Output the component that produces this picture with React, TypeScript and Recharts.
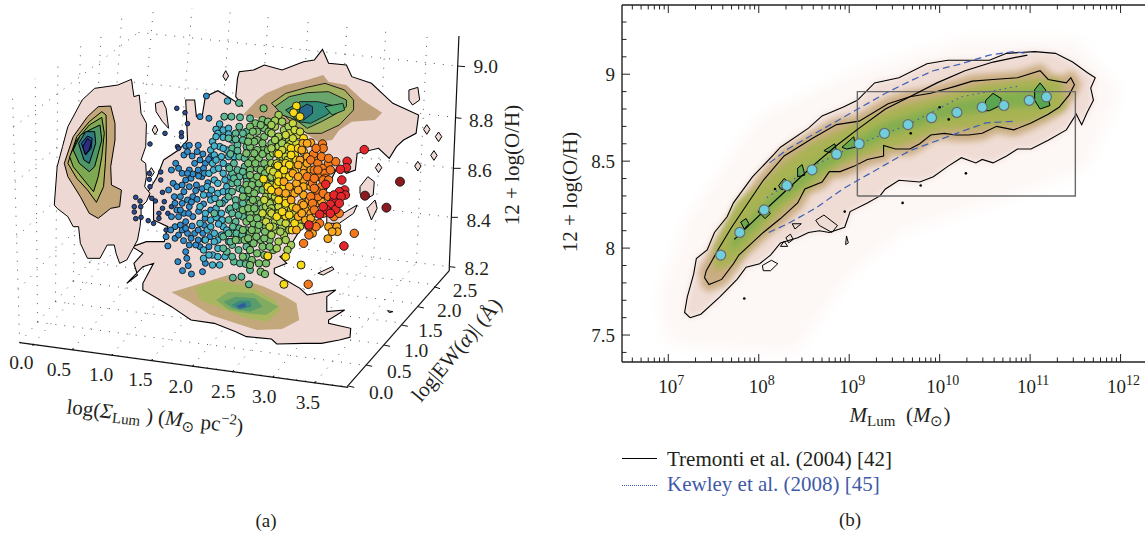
import React from 'react';
import { ScatterChart, Scatter, XAxis, YAxis, ErrorBar } from 'recharts';

type Pt = [number, number];

const SERIF = '"Liberation Serif", serif';
const INK = '#231f20';

const zTicks: { from: Pt; to: Pt; label: string; at: Pt }[] = [
  { from: [1281, 198], to: [1302, 200], label: '9.0', at: [1360, 200] },
  { from: [1275, 353], to: [1292, 355], label: '8.8', at: [1347, 360] },
  { from: [1270, 505], to: [1290, 505], label: '8.6', at: [1343, 512] },
  { from: [1265, 652], to: [1282, 652], label: '8.4', at: [1340, 660] },
  { from: [1258, 800], to: [1275, 802], label: '8.2', at: [1335, 805] },
];
const ewTicks: { from: Pt; to: Pt; label: string; at: Pt }[] = [
  { from: [1215, 860], to: [1232, 866], label: '2.5', at: [1302, 870] },
  { from: [1170, 920], to: [1187, 924], label: '2.0', at: [1258, 930] },
  { from: [1125, 975], to: [1142, 979], label: '1.5', at: [1205, 992] },
  { from: [1075, 1035], to: [1092, 1039], label: '1.0', at: [1165, 1050] },
  { from: [1025, 1095], to: [1042, 1099], label: '0.5', at: [1118, 1113] },
  { from: [975, 1158], to: [992, 1162], label: '0.0', at: [1067, 1178] },
];
const sigmaTicks: { from: Pt; to: Pt; label: string; at: Pt }[] = [
  { from: [92, 1038], to: [94, 1032], label: '0.0', at: [60, 1088] },
  { from: [203, 1050], to: [205, 1044], label: '0.5', at: [165, 1108] },
  { from: [313, 1068], to: [315, 1062], label: '1.0', at: [283, 1122] },
  { from: [425, 1083], to: [427, 1077], label: '1.5', at: [393, 1138] },
  { from: [540, 1100], to: [542, 1094], label: '2.0', at: [506, 1158] },
  { from: [652, 1117], to: [654, 1111], label: '2.5', at: [625, 1175] },
  { from: [765, 1133], to: [767, 1127], label: '3.0', at: [740, 1190] },
  { from: [882, 1150], to: [884, 1144], label: '3.5', at: [862, 1208] },
];
const zAxisLine: Pt[] = [[1285, 108], [1258, 800]];
const ewAxisLine: Pt[] = [[1258, 812], [972, 1160]];
const sigmaAxisLine: Pt[] = [[55, 1028], [975, 1162]];

const sigmaFractions = [0.04, 0.16, 0.28, 0.4, 0.526, 0.648, 0.77, 0.9];
const ewFractions = [0, 0.177, 0.354, 0.53, 0.69, 0.85];
const zFractions = [0, 0.214, 0.427, 0.647, 0.87];

const wallLeft: Pt[] = [[55, 1028], [338, 680], [395, 10], [35, 285]];
const wallBack: Pt[] = [[338, 680], [1258, 800], [1285, 108], [395, 10]];
const wallFloor: Pt[] = [[55, 1028], [975, 1160], [1258, 800], [338, 680]];

const leftLevels: { fill: string; pts: Pt[] }[] = [
  { fill: '#edd8d3', pts: [[152, 615], [160, 500], [175, 440], [190, 380], [230, 300], [265, 265], [330, 255], [368, 238], [375, 290], [390, 285], [395, 340], [410, 370], [408, 440], [395, 480], [408, 490], [410, 530], [405, 560], [420, 580], [410, 605], [395, 620], [395, 650], [392, 680], [385, 720], [355, 780], [335, 790], [325, 760], [320, 735], [300, 735], [280, 775], [245, 775], [225, 730], [220, 680], [205, 680], [190, 650], [160, 625]] },
  { fill: '#c3a67a', pts: [[180, 490], [205, 410], [245, 350], [275, 320], [310, 318], [322, 370], [322, 420], [310, 500], [312, 555], [340, 570], [335, 620], [310, 625], [275, 655], [250, 640], [225, 590], [190, 530]] },
  { fill: '#a9b25c', pts: [[190, 490], [215, 410], [250, 365], [285, 335], [297, 345], [298, 420], [295, 490], [290, 560], [270, 607], [245, 570], [215, 535]] },
  { fill: '#7fa853', pts: [[195, 470], [215, 420], [250, 375], [285, 352], [292, 400], [285, 470], [275, 530], [262, 575], [235, 540], [205, 500]] },
  { fill: '#4f9766', pts: [[205, 450], [225, 405], [260, 385], [280, 375], [285, 420], [265, 500], [250, 515], [222, 490]] },
  { fill: '#2f7b80', pts: [[220, 430], [240, 395], [265, 395], [268, 430], [250, 490], [235, 480]] },
  { fill: '#28569a', pts: [[228, 430], [245, 408], [258, 415], [255, 445], [240, 465]] },
  { fill: '#2b2d80', pts: [[232, 440], [245, 415], [256, 425], [250, 450], [238, 462]] },
];

const mainOutline: Pt[] = [[458, 480], [500, 450], [525, 420], [520, 300], [545, 300], [550, 350], [565, 355], [575, 290], [610, 272], [645, 295], [680, 320], [660, 290], [665, 235], [670, 215], [710, 210], [740, 195], [790, 210], [850, 185], [880, 180], [903, 148], [920, 190], [970, 195], [985, 230], [1040, 250], [1070, 280], [1100, 310], [1172, 345], [1165, 400], [1130, 420], [1110, 440], [1090, 475], [1060, 445], [1000, 460], [995, 510], [970, 520], [945, 500], [900, 600], [880, 640], [840, 690], [800, 760], [784, 770], [803, 790], [768, 805], [768, 820], [840, 865], [860, 885], [910, 875], [940, 870], [915, 890], [915, 935], [965, 930], [920, 960], [920, 970], [982, 985], [980, 1012], [950, 1020], [900, 1030], [850, 1030], [775, 1032], [760, 1017], [690, 1010], [660, 995], [600, 970], [535, 960], [480, 920], [440, 895], [400, 870], [400, 850], [430, 790], [400, 800], [355, 850], [385, 825], [375, 790], [400, 760], [370, 740], [410, 725], [460, 725], [470, 680], [430, 660], [430, 600], [412, 580], [440, 530]];

const smallBlobs: Pt[][] = [
  [[915, 640], [945, 650], [1000, 615], [990, 640], [950, 670], [915, 670]],
  [[435, 310], [455, 303], [465, 325], [472, 385], [455, 365], [437, 335]],
  [[1145, 270], [1170, 262], [1175, 300], [1155, 315], [1145, 300]],
  [[1008, 560], [1030, 530], [1048, 545], [1045, 585], [1020, 600], [1008, 580]],
  [[1028, 625], [1050, 600], [1056, 625], [1040, 660]],
  [[890, 820], [930, 800], [935, 808], [905, 825]],
  [[1085, 932], [1100, 935], [1090, 938]],
  [[632, 212], [640, 228], [632, 242], [624, 228]],
  [[434, 375], [442, 390], [434, 404], [426, 390]],
  [[424, 503], [432, 517], [424, 530], [416, 517]],
  [[1195, 374], [1204, 388], [1195, 403], [1186, 388]],
  [[1228, 396], [1237, 410], [1228, 425], [1219, 410]],
  [[1215, 452], [1224, 466], [1215, 481], [1206, 466]],
  [[1170, 484], [1179, 498], [1170, 513], [1161, 498]],
  [[1060, 489], [1069, 503], [1060, 518], [1051, 503]],
];

const backLevels: { fill: string; pts: Pt[] }[] = [
  { fill: '#bfa27b', pts: [[680, 345], [720, 300], [745, 280], [800, 255], [860, 240], [905, 225], [920, 245], [970, 255], [1015, 300], [1070, 338], [1050, 360], [985, 365], [950, 390], [930, 420], [890, 425], [850, 395], [800, 380], [740, 360]] },
  { fill: '#a2b060', pts: [[760, 310], [800, 280], [860, 262], [910, 250], [965, 270], [990, 300], [990, 330], [950, 375], [900, 400], [860, 400], [830, 380]] },
  { fill: '#6aa66b', pts: [[770, 320], [810, 290], [860, 278], [920, 275], [970, 300], [970, 320], [935, 345], [900, 365], [860, 385], [830, 360], [790, 345]] },
  { fill: '#2f8a78', pts: [[800, 330], [840, 305], [890, 305], [945, 320], [915, 345], [870, 370], [835, 365]] },
  { fill: '#27688a', pts: [[840, 325], [860, 312], [875, 320], [875, 340], [850, 360], [835, 350]] },
  { fill: '#4ea56c', pts: [[910, 320], [960, 310], [965, 330], [930, 345]] },
];

const floorLevels: { fill: string; pts: Pt[] }[] = [
  { fill: '#c3a87b', pts: [[480, 877], [640, 825], [740, 860], [800, 890], [830, 910], [838, 960], [790, 987], [720, 990], [660, 970], [590, 945], [530, 905]] },
  { fill: '#a9b660', pts: [[545, 865], [605, 840], [700, 860], [770, 900], [785, 930], [750, 965], [690, 955], [620, 925], [560, 900]] },
  { fill: '#80ab61', pts: [[605, 900], [640, 875], [710, 880], [780, 920], [745, 945], [690, 940], [640, 930]] },
  { fill: '#5a9c6c', pts: [[625, 905], [660, 890], [715, 895], [735, 920], [700, 935], [650, 925]] },
  { fill: '#3a8a80', pts: [[648, 915], [670, 902], [700, 902], [705, 920], [670, 930]] },
  { fill: '#2f5d9b', pts: [[662, 918], [685, 908], [690, 920], [672, 925]] },
];

const navyPoints: Pt[] = [[495, 325], [518, 338], [525, 371], [508, 398], [508, 410], [462, 400], [420, 432], [497, 440], [500, 445], [418, 538], [418, 520], [450, 516], [450, 540], [420, 560], [455, 577], [425, 595], [435, 603], [380, 592], [392, 603], [376, 620], [394, 620], [376, 636], [380, 656], [395, 652], [415, 662], [430, 670], [445, 655], [455, 625], [445, 640], [460, 605], [470, 640], [480, 620], [465, 690]];
const bluePoints: Pt[] = [[578, 288], [560, 350], [585, 355], [520, 438], [530, 436], [555, 436], [515, 465], [525, 455], [492, 490], [500, 505], [480, 510], [510, 520], [485, 550], [495, 560], [520, 540], [530, 510], [545, 490], [560, 480], [535, 535], [515, 575], [505, 590], [490, 610], [510, 610], [495, 630], [480, 650], [500, 650], [515, 640], [490, 680], [510, 690], [465, 710], [490, 715], [525, 700], [470, 738], [530, 735], [520, 755], [498, 785], [523, 775], [527, 797], [511, 812], [536, 822], [567, 815], [575, 790], [505, 675], [520, 665], [530, 620], [540, 590], [525, 600], [540, 650], [545, 700], [555, 720], [560, 740], [572, 720], [585, 740], [530, 560], [550, 555], [565, 530], [555, 510], [575, 490], [590, 470], [570, 505],
  [538, 468], [552, 455], [568, 462], [584, 478], [540, 522], [556, 528], [572, 520], [548, 572], [566, 566], [582, 548], [536, 606], [552, 598], [570, 612], [586, 584], [528, 640], [556, 634], [574, 655], [590, 630], [520, 685], [538, 678], [555, 690], [572, 676], [500, 705], [514, 722], [535, 715], [548, 735], [568, 700], [588, 710], [505, 630], [478, 690], [488, 590], [472, 570], [510, 555], [525, 520]];
const cyanPoints: Pt[] = [[637, 303], [615, 372], [605, 388], [595, 425], [610, 400], [625, 390], [640, 385], [590, 450], [600, 465], [615, 440], [620, 470], [595, 490], [585, 520], [600, 540], [580, 560], [570, 585], [590, 600], [610, 580], [560, 620], [575, 640], [590, 660], [560, 670], [605, 625], [580, 690], [600, 700], [570, 750], [595, 765], [570, 775], [615, 795], [595, 795], [610, 720], [625, 680], [620, 640], [630, 600], [635, 560], [625, 520], [640, 500], [635, 450], [650, 420], [655, 470], [575, 720], [610, 745],
  [605, 410], [625, 412], [640, 402], [600, 438], [625, 445], [605, 480], [625, 490], [640, 470], [598, 510], [612, 505], [630, 540], [610, 550], [592, 570], [625, 575], [645, 530], [602, 595], [622, 610], [640, 575], [605, 652], [622, 660], [640, 630], [590, 680], [612, 672], [635, 690], [600, 725], [620, 705], [640, 725], [585, 765], [610, 770], [630, 770]];
const tealPoints: Pt[] = [[669, 309], [628, 350], [648, 350], [672, 352], [700, 355], [640, 415], [660, 400], [670, 380], [690, 395], [650, 445], [665, 435], [680, 420], [670, 470], [655, 490], [685, 500], [650, 520], [670, 530], [690, 530], [650, 550], [670, 565], [640, 590], [660, 600], [645, 625], [670, 625], [640, 660], [660, 665], [680, 650], [625, 710], [650, 700], [635, 755], [650, 735], [670, 720], [655, 785], [690, 770], [705, 730], [672, 790], [688, 792], [652, 833], [676, 830], [697, 853], [700, 810], [625, 745], [600, 640], [615, 610],
  [660, 418], [680, 400], [690, 440], [645, 462], [665, 452], [685, 475], [642, 505], [665, 510], [680, 515], [655, 535], [690, 545], [665, 548], [680, 570], [650, 575], [690, 590], [660, 618], [680, 610], [650, 640], [668, 645], [690, 630], [652, 680], [670, 685], [690, 690], [640, 700], [662, 700], [678, 705], [645, 725], [690, 740], [668, 750], [650, 770]];
const greenPoints: Pt[] = [[738, 325], [715, 370], [735, 360], [750, 365], [700, 380], [720, 395], [740, 385], [700, 410], [720, 420], [740, 410], [700, 440], [720, 450], [690, 460], [705, 480], [725, 475], [740, 445], [760, 430], [700, 510], [720, 505], [740, 490], [755, 470], [690, 555], [710, 540], [730, 530], [700, 580], [720, 570], [680, 590], [700, 610], [720, 600], [680, 630], [700, 640], [720, 635], [690, 665], [710, 670], [730, 650], [680, 690], [700, 700], [720, 690], [745, 680], [660, 720], [685, 720], [710, 730], [730, 720], [755, 720], [720, 760], [740, 765], [705, 780], [730, 815], [742, 822], [700, 795], [760, 690], [740, 715], [765, 750],
  [708, 395], [730, 375], [752, 395], [712, 425], [735, 430], [695, 425], [712, 460], [735, 462], [750, 450], [695, 490], [715, 490], [730, 510], [750, 505], [700, 525], [720, 530], [742, 520], [705, 555], [725, 550], [745, 538], [695, 570], [712, 580], [735, 570], [708, 600], [730, 610], [750, 605], [695, 625], [712, 625], [735, 625], [700, 655], [720, 655], [740, 640], [705, 690], [725, 675], [742, 695], [695, 715], [718, 710], [735, 740], [755, 740], [700, 750], [680, 770], [725, 790], [745, 790]];
const lightGreenPoints: Pt[] = [[780, 345], [770, 380], [780, 410], [795, 390], [760, 400], [780, 440], [800, 420], [765, 460], [785, 480], [800, 455], [760, 490], [780, 510], [760, 530], [745, 550], [770, 560], [745, 590], [765, 600], [745, 620], [770, 630], [750, 650], [770, 665], [790, 650], [770, 690], [795, 705], [815, 735], [805, 750], [750, 770], [790, 680], [840, 660], [820, 660], [810, 690],
  [770, 362], [760, 375], [790, 365], [808, 380], [770, 420], [790, 430], [810, 420], [775, 460], [760, 445], [790, 470], [770, 500], [760, 510], [790, 520], [775, 545], [760, 555], [785, 570], [760, 585], [775, 605], [755, 610], [785, 620], [760, 625], [775, 640], [755, 635], [785, 665], [765, 680], [785, 695], [760, 705], [780, 725], [800, 720], [775, 745]];
const limePoints: Pt[] = [[810, 400], [820, 370], [835, 405], [815, 430], [800, 470], [830, 430], [775, 490], [795, 500], [755, 510], [775, 530], [750, 570], [770, 590], [790, 610], [780, 620], [740, 600], [735, 640], [760, 640], [745, 665], [755, 680],
  [825, 390], [800, 405], [840, 395], [820, 415], [805, 440], [825, 450], [790, 450], [805, 480], [785, 500], [765, 515], [790, 535], [770, 575], [795, 590], [810, 580], [800, 620], [815, 630], [780, 640], [800, 670], [825, 640], [840, 680]];
const yellowPoints: Pt[] = [[830, 318], [822, 338], [840, 350], [815, 445], [825, 465], [845, 440], [780, 462], [778, 497], [800, 490], [820, 500], [780, 525], [800, 525], [738, 537], [750, 560], [760, 570], [775, 555], [785, 600], [800, 600], [775, 650], [800, 648], [818, 690], [800, 770], [843, 795], [795, 853], [750, 768], [830, 480],
  [850, 415], [835, 445], [815, 465], [850, 455], [810, 495], [795, 510], [825, 515], [810, 530], [795, 560], [780, 545], [830, 565], [815, 575], [800, 610], [820, 620], [790, 635], [810, 645], [825, 670], [780, 600]];
const amberPoints: Pt[] = [[870, 428], [848, 430], [840, 480], [860, 470], [870, 510], [850, 500], [820, 520], [795, 545], [810, 560], [830, 550], [850, 540], [780, 575], [800, 580], [825, 580], [815, 600], [850, 585], [845, 610], [870, 620], [885, 610], [855, 630], [835, 650], [855, 660], [920, 680], [918, 716], [943, 680], [945, 695], [830, 690], [880, 670], [870, 640],
  [860, 430], [845, 450], [860, 490], [880, 480], [835, 495], [850, 520], [870, 530], [835, 530], [850, 560], [870, 560], [835, 570], [865, 600], [850, 615], [830, 625], [845, 640], [870, 655], [900, 605], [885, 640], [875, 700], [930, 695]];
const orangePoints: Pt[] = [[903, 432], [905, 445], [878, 462], [870, 480], [890, 490], [905, 505], [880, 510], [895, 530], [860, 530], [875, 550], [900, 560], [890, 590], [885, 570], [920, 490], [940, 485], [910, 520], [870, 590], [865, 680], [895, 670], [865, 705], [850, 730], [863, 853], [992, 700], [910, 535], [935, 650],
  [885, 445], [900, 470], [920, 475], [890, 510], [925, 510], [905, 540], [880, 535], [920, 540], [880, 565], [905, 580], [875, 610], [920, 590], [905, 640], [880, 630], [885, 680], [950, 640], [940, 610]];
const redPoints: Pt[] = [[1020, 449], [972, 484], [970, 503], [953, 508], [957, 540], [912, 553], [965, 570], [950, 575], [967, 585], [935, 600], [925, 613], [940, 628], [915, 630], [895, 643], [865, 675], [963, 738], [905, 620], [935, 585], [955, 590], [950, 610], [925, 640]];
const darkRedPoints: Pt[] = [[1120, 545], [1022, 587], [1082, 623]];

const clusterSeries: { pts: Pt[]; fill: string; r: number }[] = [
  { pts: navyPoints, fill: '#2b4f96', r: 2.3 },
  { pts: bluePoints, fill: '#2f8ccb', r: 3 },
  { pts: cyanPoints, fill: '#45b3cd', r: 3.3 },
  { pts: tealPoints, fill: '#5cb995', r: 3.5 },
  { pts: greenPoints, fill: '#79c06c', r: 3.7 },
  { pts: lightGreenPoints, fill: '#a3cf58', r: 3.8 },
  { pts: limePoints, fill: '#cbd93e', r: 3.8 },
  { pts: yellowPoints, fill: '#f6d917', r: 4 },
  { pts: amberPoints, fill: '#f9a81f', r: 4 },
  { pts: orangePoints, fill: '#f4791d', r: 4.2 },
  { pts: redPoints, fill: '#e6262b', r: 4.3 },
  { pts: darkRedPoints, fill: '#8a1a1f', r: 4.5 },
];

// ---------- panel (b): log10 of luminous mass against 12 + log(O/H) ----------
const massMajor = [7, 8, 9, 10, 11, 12];
const metalMajor = [7.5, 8, 8.5, 9];

const outerContour: Pt[] = [[7.24, 7.6], [7.18, 7.63], [7.21, 7.72], [7.28, 7.85], [7.31, 7.94], [7.43, 7.99], [7.51, 8.09], [7.65, 8.18], [7.72, 8.26], [7.93, 8.41], [8.17, 8.54], [8.24, 8.58], [8.55, 8.69], [8.7, 8.76], [8.93, 8.81], [9.09, 8.85], [9.28, 8.95], [9.55, 8.98], [9.86, 9.06], [10.09, 9.08], [10.55, 9.08], [10.74, 9.12], [11.05, 9.13], [11.28, 9.12], [11.47, 9.07], [11.63, 9.01], [11.72, 8.98], [11.67, 8.92], [11.7, 8.85], [11.63, 8.78], [11.57, 8.71], [11.51, 8.77], [11.4, 8.68], [11.2, 8.62], [11.01, 8.57], [10.86, 8.57], [10.74, 8.53], [10.59, 8.49], [10.47, 8.51], [10.4, 8.49], [10.24, 8.52], [10.09, 8.47], [9.93, 8.41], [9.78, 8.38], [9.55, 8.39], [9.4, 8.34], [9.34, 8.3], [9.2, 8.26], [9.01, 8.21], [8.95, 8.12], [8.78, 8.09], [8.67, 8.1], [8.55, 8.09], [8.43, 8.06], [8.24, 8.03], [8.13, 7.96], [8.01, 7.91], [7.86, 7.89], [7.76, 7.82], [7.57, 7.72], [7.36, 7.62]];
const innerContour: Pt[] = [[7.4, 7.83], [7.45, 7.79], [7.59, 7.82], [7.72, 7.91], [7.78, 7.96], [8.05, 8.09], [8.24, 8.17], [8.43, 8.26], [8.51, 8.34], [8.7, 8.38], [8.78, 8.44], [8.9, 8.44], [9.05, 8.47], [9.2, 8.51], [9.38, 8.53], [9.38, 8.59], [9.51, 8.57], [9.67, 8.57], [9.78, 8.6], [9.9, 8.65], [10.05, 8.66], [10.18, 8.65], [10.32, 8.65], [10.47, 8.66], [10.63, 8.7], [10.82, 8.68], [11.01, 8.72], [11.2, 8.77], [11.32, 8.81], [11.43, 8.88], [11.49, 8.94], [11.45, 8.98], [11.4, 8.95], [11.2, 8.97], [11.11, 9.02], [10.86, 8.98], [10.59, 8.97], [10.36, 8.96], [10.17, 8.93], [9.9, 8.89], [9.67, 8.87], [9.43, 8.83], [9.11, 8.73], [8.86, 8.71], [8.59, 8.63], [8.28, 8.53], [8.05, 8.39], [7.7, 8.12], [7.55, 7.99], [7.42, 7.87]];
const islandContours: Pt[][] = [
  [[10.51, 8.85], [10.59, 8.89], [10.68, 8.86], [10.67, 8.82], [10.55, 8.79], [10.49, 8.79]],
  [[11.05, 8.91], [11.11, 8.95], [11.17, 8.91], [11.22, 8.82], [11.11, 8.8], [11.05, 8.85]],
  [[8.43, 8.46], [8.48, 8.48], [8.51, 8.42], [8.43, 8.41]],
  [[8.22, 8.36], [8.28, 8.4], [8.38, 8.36], [8.34, 8.33], [8.24, 8.34]],
  [[8.72, 8.56], [8.84, 8.6], [8.86, 8.56], [8.78, 8.55]],
  [[8.92, 8.58], [9.05, 8.64], [9.07, 8.58], [8.97, 8.57]],
  [[7.8, 8.15], [7.86, 8.17], [7.89, 8.14], [7.84, 8.11]],
  [[7.99, 8.21], [8.07, 8.23], [8.13, 8.2], [8.07, 8.17]],
  [[8.63, 8.16], [8.72, 8.19], [8.87, 8.13], [8.81, 8.09], [8.67, 8.13]],
  [[8.04, 7.9], [8.14, 7.93], [8.21, 7.91], [8.13, 7.87], [8.05, 7.87]],
  [[8.24, 8.01], [8.28, 8.04], [8.32, 8.01]],
  [[8.37, 8.14], [8.47, 8.14], [8.4, 8.11]],
  [[8.3, 8.06], [8.35, 8.08], [8.38, 8.05], [8.33, 8.03]],
  [[8.97, 8.07], [8.99, 8.03], [8.96, 8.02]],
];
const islandFill = ['#59a650', '#59a650', '#6caa4d', '#6caa4d', '#6caa4d', '#6caa4d', '#6caa4d', '#6caa4d'];
const strayDots: Pt[] = [[7.84, 7.71], [9.68, 8.66], [9.79, 8.36], [10.29, 8.43], [9.59, 8.26], [8.95, 8.21], [10.1, 8.74], [10.0, 8.81], [8.18, 8.34]];

const faintHalo: Pt[] = [[7.0, 7.45], [8.4, 7.4], [9.0, 7.85], [9.6, 8.1], [10.5, 8.25], [11.6, 8.45], [12.0, 8.9], [11.5, 9.2], [10.3, 9.2], [9.0, 9.0], [8.0, 8.75], [7.2, 8.15], [6.9, 7.7]];
const densityCore: Pt[] = [[7.55, 8.0], [7.8, 8.25], [8.05, 8.35], [8.3, 8.47], [8.6, 8.58], [8.9, 8.65], [9.2, 8.72], [9.6, 8.8], [10, 8.85], [10.5, 8.92], [11, 8.95], [11.3, 8.95], [11.35, 8.82], [11, 8.75], [10.5, 8.72], [10, 8.7], [9.6, 8.62], [9.2, 8.56], [8.9, 8.5], [8.5, 8.35], [8.2, 8.22], [7.95, 8.08], [7.75, 7.95], [7.55, 7.9]];
const densityPeak: Pt[] = [[7.7, 8.05], [8.2, 8.33], [8.7, 8.52], [9.4, 8.72], [10, 8.82], [10.6, 8.89], [11.2, 8.92], [11.2, 8.82], [10.6, 8.8], [10, 8.74], [9.4, 8.64], [8.7, 8.45], [8.2, 8.25], [7.7, 7.98]];

const selectionBox: Pt[] = [[9.09, 8.3], [11.5, 8.3], [11.5, 8.9], [9.09, 8.9], [9.09, 8.3]];
const tremontiLine: Pt[] = [[7.73, 8.05], [8.05, 8.21], [8.32, 8.34], [8.59, 8.47], [8.86, 8.59], [9.11, 8.69], [9.4, 8.8], [9.67, 8.87], [9.97, 8.95], [10.28, 9.02], [10.59, 9.07], [10.97, 9.11]];
const kewleyUpper: Pt[] = [[8.12, 8.49], [8.32, 8.57], [8.59, 8.65], [8.86, 8.73], [9.13, 8.81], [9.4, 8.89], [9.67, 8.96], [9.93, 9.02], [10.24, 9.06], [10.55, 9.11], [10.82, 9.13], [10.95, 9.12]];
const kewleyLower: Pt[] = [[8.11, 8.09], [8.32, 8.14], [8.63, 8.23], [8.93, 8.34], [9.13, 8.4], [9.4, 8.48], [9.67, 8.56], [9.93, 8.61], [10.24, 8.67], [10.51, 8.72], [10.84, 8.73]];
const kewleyMiddle: Pt[] = [[8.09, 8.29], [8.59, 8.47], [9.11, 8.6], [9.65, 8.71], [10.24, 8.87], [10.86, 8.93]];

const binMass = [7.58, 7.79, 8.06, 8.31, 8.59, 8.86, 9.11, 9.39, 9.65, 9.91, 10.19, 10.47, 10.71, 10.99, 11.18];
const binMetal = [7.96, 8.09, 8.22, 8.36, 8.45, 8.54, 8.6, 8.66, 8.71, 8.75, 8.78, 8.81, 8.82, 8.85, 8.87];
const binLow = [7.78, 7.91, 8.04, 8.17, 8.27, 8.35, 8.42, 8.48, 8.55, 8.59, 8.63, 8.66, 8.68, 8.71, 8.75];
const binHigh = [8.13, 8.26, 8.4, 8.54, 8.64, 8.72, 8.78, 8.83, 8.88, 8.9, 8.93, 8.95, 8.96, 8.98, 9.0];

const rows = (pts: Pt[]) => pts.map(([x, y]) => ({ x, y }));
const closed = (pts: Pt[]) => rows([...pts, pts[0]]);
const hidden = () => <g />;

const outline = (key: string, data: { x: number; y: number }[], line: Record<string, unknown>) => (
  <Scatter key={key} data={data} isAnimationActive={false} shape={hidden} line={{ fill: 'none', ...line }} legendType="none" />
);

const mix = (a: Pt, b: Pt, t: number): Pt => [a[0] + (b[0] - a[0]) * t, a[1] + (b[1] - a[1]) * t];

// dotted lines across one face of the box: rows run a->b, columns run a->d
const faceGrid = (key: string, q: Pt[], us: number[], vs: number[]) => {
  const [a, b, c, d] = q;
  const out: React.ReactElement[] = [];
  us.forEach((u, i) => {
    out.push(outline(`${key}u${i}`, rows([mix(a, b, u), mix(d, c, u)]), { stroke: '#444', strokeWidth: 0.9, strokeDasharray: '1 8' }));
  });
  vs.forEach((v, i) => {
    out.push(outline(`${key}v${i}`, rows([mix(a, d, v), mix(b, c, v)]), { stroke: '#444', strokeWidth: 0.9, strokeDasharray: '1 8' }));
  });
  return out;
};

const tickLabel = (props: any) => (
  <text x={props.cx} y={props.cy} textAnchor="middle" dominantBaseline="central" fontFamily={SERIF} fontSize={19.5} fill={INK}>
    {props.payload.label}
  </text>
);

const PanelA = () => {
  const ticks = [...zTicks, ...ewTicks, ...sigmaTicks];
  return (
    <ScatterChart width={560} height={533} margin={{ top: 0, right: 0, bottom: 0, left: 0 }}>
      <XAxis type="number" dataKey="x" domain={[0, 1568]} hide />
      <YAxis type="number" dataKey="y" domain={[0, 1599]} reversed hide />
      {faceGrid('left', wallLeft, ewFractions, zFractions)}
      {faceGrid('back', wallBack, sigmaFractions, zFractions)}
      {faceGrid('floor', wallFloor, sigmaFractions, ewFractions)}

      {outline('main', closed(mainOutline), { fill: '#eed9d5', stroke: '#000', strokeWidth: 1.1 })}
      {smallBlobs.map((b, i) => outline(`blob${i}`, closed(b), { fill: '#eed9d5', stroke: '#000', strokeWidth: 1 }))}
      {leftLevels.map((l, i) => outline(`left${i}`, closed(l.pts), { fill: l.fill, stroke: '#000', strokeWidth: 1 }))}
      {backLevels.map((l, i) => outline(`back${i}`, closed(l.pts), { fill: l.fill, stroke: i === 0 ? 'none' : '#111', strokeWidth: 0.9 }))}
      {floorLevels.map((l, i) => outline(`floor${i}`, closed(l.pts), { fill: l.fill, stroke: 'none' }))}

      {clusterSeries.map((s, i) => (
        <Scatter
          key={`cluster${i}`}
          data={rows(s.pts)}
          isAnimationActive={false}
          shape={(p: any) => <circle cx={p.cx} cy={p.cy} r={s.r} fill={s.fill} stroke="#111" strokeWidth={0.9} />}
        />
      ))}

      {outline('zAxis', rows(zAxisLine), { stroke: '#111', strokeWidth: 1.2 })}
      {outline('ewAxis', rows(ewAxisLine), { stroke: '#111', strokeWidth: 1.2 })}
      {outline('sigmaAxis', rows(sigmaAxisLine), { stroke: '#111', strokeWidth: 1.2 })}
      {outline('corner', rows([zAxisLine[1], ewAxisLine[0]]), { stroke: '#111', strokeWidth: 1.2 })}
      {ticks.map((t, i) => outline(`tick${i}`, rows([t.from, t.to]), { stroke: '#111', strokeWidth: 1 }))}
      <Scatter
        data={ticks.map((t) => ({ x: t.at[0], y: t.at[1], label: t.label }))}
        isAnimationActive={false}
        shape={tickLabel}
      />
    </ScatterChart>
  );
};

const MASS_MIN = 6.488;
const MASS_MAX = 12.27;
const METAL_MIN = 7.345;
const METAL_MAX = 9.398;

const minorSteps = [1, 2, 3, 4, 5, 6, 7, 8, 9];
const massTicks = [6, ...massMajor]
  .flatMap((d) => minorSteps.map((m) => d + Math.log10(m)))
  .filter((v) => v > MASS_MIN && v < MASS_MAX);
const metalTicks = [7.4, 7.5, 7.6, 7.7, 7.8, 7.9, 8, 8.1, 8.2, 8.3, 8.4, 8.5, 8.6, 8.7, 8.8, 8.9, 9, 9.1, 9.2, 9.3];

const isMassMajor = (v: number) => massMajor.some((m) => Math.abs(m - v) < 1e-6);
const isMetalMajor = (v: number) => metalMajor.some((m) => Math.abs(m - v) < 1e-6);

const massTickBottom = (p: any) => {
  const major = isMassMajor(p.payload.value);
  return (
    <g>
      <line x1={p.x} x2={p.x} y1={p.y} y2={p.y - (major ? 8 : 4.5)} stroke="#222" strokeWidth={1} />
      {major && (
        <text x={p.x + 3} y={p.y + 31} textAnchor="middle" fontFamily={SERIF} fontSize={19} fill={INK}>
          10
          <tspan dy={-8} fontSize={14}>{p.payload.value}</tspan>
        </text>
      )}
    </g>
  );
};

const massTickTop = (p: any) => {
  const major = isMassMajor(p.payload.value);
  return <line x1={p.x} x2={p.x} y1={p.y} y2={p.y + (major ? 8 : 4.5)} stroke="#222" strokeWidth={1} />;
};

const metalTick = (p: any) => {
  const major = isMetalMajor(p.payload.value);
  return (
    <g>
      <line x1={p.x} x2={p.x + (major ? 8 : 4.5)} y1={p.y} y2={p.y} stroke="#222" strokeWidth={1} />
      {major && (
        <text x={p.x - 7} y={p.y + 6.5} textAnchor="end" fontFamily={SERIF} fontSize={19} fill={INK}>
          {p.payload.value}
        </text>
      )}
    </g>
  );
};

const PanelB = () => {
  const bins = binMass.map((x, i) => ({
    x,
    y: binMetal[i],
    err: [binMetal[i] - binLow[i], binHigh[i] - binMetal[i]],
  }));
  return (
    <ScatterChart width={1145} height={533} margin={{ top: 4, right: 0, bottom: 141, left: 572 }}>
      <defs>
        <filter id="softWide" x="-20%" y="-20%" width="140%" height="140%">
          <feGaussianBlur stdDeviation="8" />
        </filter>
        <filter id="soft" x="-20%" y="-20%" width="140%" height="140%">
          <feGaussianBlur stdDeviation="3" />
        </filter>
      </defs>
      <XAxis
        type="number"
        dataKey="x"
        domain={[MASS_MIN, MASS_MAX]}
        ticks={massTicks}
        interval={0}
        height={30}
        tickLine={false}
        tickSize={0}
        tickMargin={0}
        tick={massTickBottom}
        axisLine={{ stroke: '#222', strokeWidth: 1.4 }}
        allowDataOverflow
      />
      <XAxis
        xAxisId="top"
        type="number"
        dataKey="x"
        orientation="top"
        domain={[MASS_MIN, MASS_MAX]}
        ticks={massTicks}
        interval={0}
        height={1}
        tickLine={false}
        tickSize={0}
        tickMargin={0}
        tick={massTickTop}
        axisLine={{ stroke: '#222', strokeWidth: 1.4 }}
        allowDataOverflow
      />
      <YAxis
        type="number"
        dataKey="y"
        domain={[METAL_MIN, METAL_MAX]}
        ticks={metalTicks}
        interval={0}
        width={50}
        tickLine={false}
        tickSize={0}
        tickMargin={0}
        tick={metalTick}
        axisLine={{ stroke: '#222', strokeWidth: 1.4 }}
        allowDataOverflow
      />
      <Scatter xAxisId="top" data={rows([[9, 8.5]])} isAnimationActive={false} shape={hidden} />

      {outline('halo', closed(faintHalo), { fill: '#fdf7f5', stroke: 'none', style: { filter: 'url(#softWide)' } })}
      {outline('densOuter', closed(outerContour), { fill: '#efdcd4', stroke: 'none', style: { filter: 'url(#soft)' } })}
      {outline('densTan', closed(innerContour), { fill: '#c9aa78', stroke: '#cbae84', strokeWidth: 13, strokeLinejoin: 'round', style: { filter: 'url(#soft)' } })}
      {outline('densCore', closed(densityCore), { fill: '#a8b352', stroke: '#a8b352', strokeWidth: 8, strokeLinejoin: 'round', style: { filter: 'url(#soft)' } })}
      {outline('densPeak', closed(densityPeak), { fill: '#82af4f', stroke: 'none', style: { filter: 'url(#soft)' } })}

      {outline('outer', closed(outerContour), { stroke: '#000', strokeWidth: 1.1 })}
      {outline('inner', closed(innerContour), { stroke: '#000', strokeWidth: 1.1 })}
      {islandContours.map((c, i) => outline(`island${i}`, closed(c), { fill: islandFill[i] ?? 'none', stroke: '#000', strokeWidth: 1 }))}
      <Scatter data={rows(strayDots)} isAnimationActive={false} shape={(p: any) => <circle cx={p.cx} cy={p.cy} r={1.3} fill="#000" />} />

      {outline('box', rows(selectionBox), { stroke: '#6a6a6a', strokeWidth: 1.4 })}
      {outline('tremonti', rows(tremontiLine), { stroke: '#000', strokeWidth: 1.2 })}
      {outline('kewleyUp', rows(kewleyUpper), { stroke: '#3f5fb5', strokeWidth: 1.2, strokeDasharray: '7 4' })}
      {outline('kewleyLow', rows(kewleyLower), { stroke: '#3f5fb5', strokeWidth: 1.2, strokeDasharray: '7 4' })}
      {outline('kewleyMid', rows(kewleyMiddle), { stroke: '#3f5fb5', strokeWidth: 1.2, strokeDasharray: '1.5 4' })}

      <Scatter
        data={bins}
        isAnimationActive={false}
        shape={(p: any) => <circle cx={p.cx} cy={p.cy} r={5} fill="#6fcfdd" stroke="#6b6b6b" strokeWidth={1.2} />}
      >
        <ErrorBar dataKey="err" direction="y" width={3} stroke="#707070" strokeWidth={1.2} isAnimationActive={false} />
      </Scatter>
    </ScatterChart>
  );
};

const place = (x: number, y: number, angle = 0): React.CSSProperties => ({
  position: 'absolute',
  left: x,
  top: y,
  transform: `translate(-50%, -50%) rotate(${angle}deg)`,
  whiteSpace: 'nowrap',
  fontFamily: SERIF,
  fontSize: 21,
  color: INK,
  lineHeight: 1,
});

const lowered: React.CSSProperties = { fontSize: 15, verticalAlign: '-4px', lineHeight: 0 };
const raised: React.CSSProperties = { fontSize: 15, verticalAlign: '8px', lineHeight: 0 };

export default function App() {
  return (
    <div style={{ position: 'absolute', left: 0, top: 0, width: 1145, height: 533, overflow: 'hidden', background: '#fff' }}>
      <div style={{ position: 'absolute', left: 0, top: 0 }}>
        <PanelB />
      </div>
      <div style={{ position: 'absolute', left: 0, top: 0 }}>
        <PanelA />
      </div>

      <div style={place(155, 417, 6.5)}>
        log(<i>Σ</i><span style={lowered}>Lum</span> ) (<i>M</i><span style={lowered}>⊙</span> pc<span style={raised}>−2</span>)
      </div>
      <div style={place(457, 350, -50)}>
        log|EW(<i>α</i>)| (Å)
      </div>
      <div style={place(512, 165, -90)}>12 + log(O/H)</div>
      <div style={{ ...place(266, 520), fontSize: 19 }}>(a)</div>

      <div style={place(570, 192, -90)}>12 + log(O/H)</div>
      <div style={place(900, 415)}>
        <i>M</i><span style={lowered}>Lum</span>&nbsp; (<i>M</i><span style={lowered}>⊙</span>)
      </div>
      <div style={{ position: 'absolute', left: 622, top: 457.5, width: 35, borderTop: '1.3px solid #000' }} />
      <div style={{ ...place(667, 459), transform: 'translateY(-50%)' }}>Tremonti et al. (2004) [42]</div>
      <div style={{ position: 'absolute', left: 622, top: 484.5, width: 35, borderTop: '1.2px dotted #3f5fb5' }} />
      <div style={{ ...place(667, 484), transform: 'translateY(-50%)', color: '#3f5aa8' }}>Kewley et al. (2008) [45]</div>
      <div style={{ ...place(850, 519), fontSize: 19 }}>(b)</div>
    </div>
  );
}
